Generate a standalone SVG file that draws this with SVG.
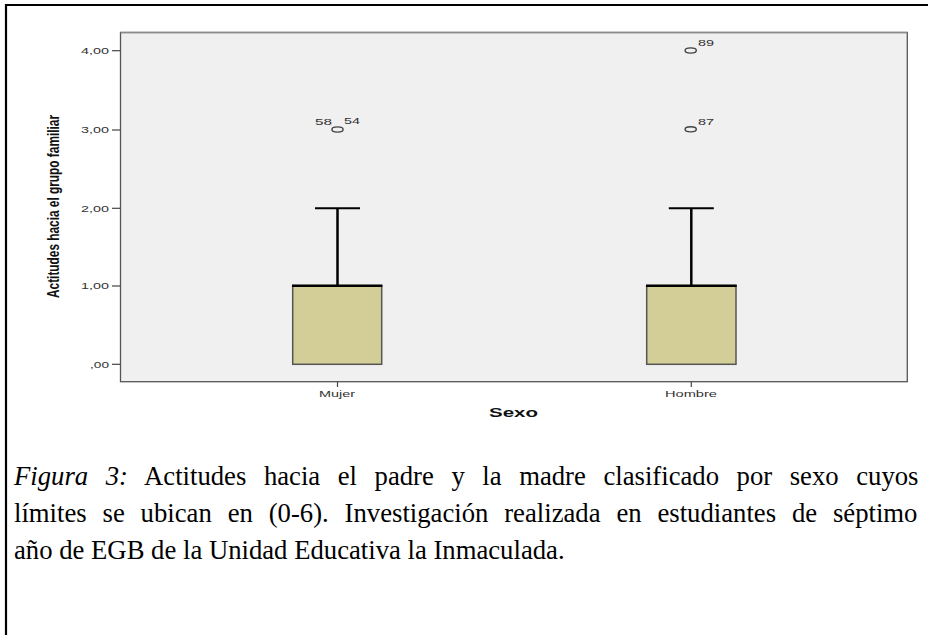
<svg xmlns="http://www.w3.org/2000/svg" width="928" height="635" viewBox="0 0 928 635">
<style>
.tick{font-family:"Liberation Sans",Arial,sans-serif;font-size:9.5px;fill:#333;}
.lbl{font-family:"Liberation Sans",Arial,sans-serif;font-size:9.5px;fill:#333;}
.ttl{font-family:"Liberation Sans",Arial,sans-serif;font-weight:bold;fill:#111;}
.cap{font-family:"Liberation Serif","Times New Roman",serif;font-size:26.7px;fill:#000;}
.box{fill:#D3CE98;stroke:#555;stroke-width:1.5;}
.wh{stroke:#000;stroke-width:2.5;fill:none;}
.out{fill:none;stroke:#444;stroke-width:1.4;}
.tk{stroke:#444;stroke-width:1.2;}
</style>
<rect x="0" y="0" width="928" height="635" fill="#fff"/>
<!-- outer border -->
<line x1="5" y1="5" x2="928" y2="5" stroke="#000" stroke-width="2.2"/>
<line x1="6" y1="4" x2="6" y2="635" stroke="#000" stroke-width="2.2"/>

<g id="plot">
<rect x="120.5" y="32.5" width="786.8" height="349.2" fill="#F0F0F0" stroke="#555" stroke-width="1.3"/>
<line x1="120.5" y1="32.5" x2="907.3" y2="32.5" stroke="#8a8a8a" stroke-width="1.4"/>
</g>

<g id="y-axis">
<line class="tk" x1="112" y1="50.7" x2="120.5" y2="50.7"/>
<line class="tk" x1="112" y1="130" x2="120.5" y2="130"/>
<line class="tk" x1="112" y1="208.3" x2="120.5" y2="208.3"/>
<line class="tk" x1="112" y1="286" x2="120.5" y2="286"/>
<line class="tk" x1="112" y1="364.3" x2="120.5" y2="364.3"/>
<text class="tick" x="81" y="54" textLength="28" lengthAdjust="spacingAndGlyphs">4,00</text>
<text class="tick" x="81" y="133.3" textLength="28" lengthAdjust="spacingAndGlyphs">3,00</text>
<text class="tick" x="81" y="211.6" textLength="28" lengthAdjust="spacingAndGlyphs">2,00</text>
<text class="tick" x="81" y="289.3" textLength="28" lengthAdjust="spacingAndGlyphs">1,00</text>
<text class="tick" x="90" y="367.6" textLength="19" lengthAdjust="spacingAndGlyphs">,00</text>
<text class="ttl" font-size="17" transform="translate(59,206.5) rotate(-90)" x="-91.5" y="0" textLength="183" lengthAdjust="spacingAndGlyphs">Actitudes hacia el grupo familiar</text>
</g>

<g id="x-axis">
<line class="tk" x1="337.5" y1="381.7" x2="337.5" y2="387"/>
<line class="tk" x1="691.3" y1="381.7" x2="691.3" y2="387"/>
<text class="lbl" x="319" y="396.7" textLength="36" lengthAdjust="spacingAndGlyphs">Mujer</text>
<text class="lbl" x="665" y="396.7" textLength="52" lengthAdjust="spacingAndGlyphs">Hombre</text>
<text class="ttl" font-size="12.5" x="489" y="416.7" textLength="49" lengthAdjust="spacingAndGlyphs">Sexo</text>
</g>

<g id="box-mujer">
<line class="wh" x1="337.5" y1="208.3" x2="337.5" y2="285.7"/>
<line x1="315" y1="208.3" x2="360" y2="208.3" stroke="#000" stroke-width="2"/>
<rect class="box" x="292.7" y="285.7" width="89" height="78.6"/>
<line x1="292" y1="285.7" x2="382.4" y2="285.7" stroke="#000" stroke-width="2.5"/>
<ellipse class="out" cx="337.5" cy="129.5" rx="5.6" ry="2.6" stroke-width="1.8"/>
<text class="lbl" x="315" y="124.5" textLength="17" lengthAdjust="spacingAndGlyphs">58</text>
<text class="lbl" x="344" y="123.5" textLength="16" lengthAdjust="spacingAndGlyphs">54</text>
</g>

<g id="box-hombre">
<line class="wh" x1="691.3" y1="208.3" x2="691.3" y2="285.7"/>
<line x1="668.8" y1="208.3" x2="713.8" y2="208.3" stroke="#000" stroke-width="2"/>
<rect class="box" x="646.7" y="285.7" width="89.3" height="78.6"/>
<line x1="646" y1="285.7" x2="736.7" y2="285.7" stroke="#000" stroke-width="2.5"/>
<ellipse class="out" cx="690.7" cy="50.5" rx="5.6" ry="2.6"/>
<text class="lbl" x="698" y="45.5" textLength="16" lengthAdjust="spacingAndGlyphs">89</text>
<ellipse class="out" cx="690.7" cy="129.3" rx="5.6" ry="2.6"/>
<text class="lbl" x="698" y="124.5" textLength="16" lengthAdjust="spacingAndGlyphs">87</text>
</g>

<g id="caption">
<text class="cap" x="14" y="485" word-spacing="10.9"><tspan font-style="italic">Figura 3:</tspan> Actitudes hacia el padre y la madre clasificado por sexo cuyos</text>
<text class="cap" x="14" y="522" word-spacing="9.2">límites se ubican en (0-6). Investigación realizada en estudiantes de séptimo</text>
<text class="cap" x="14" y="559">año de EGB de la Unidad Educativa la Inmaculada.</text>
</g>
</svg>
